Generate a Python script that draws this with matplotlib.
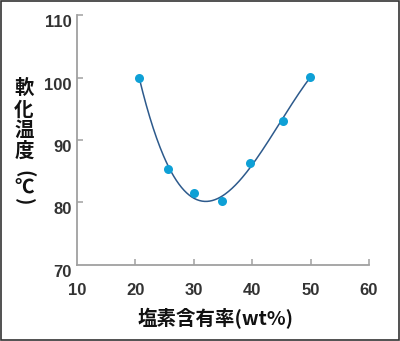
import numpy as np
import matplotlib
matplotlib.use("Agg")
import matplotlib.pyplot as plt
import matplotlib.transforms as mtransforms

# chlorine content (wt%) vs softening temperature (C)
chlorine = [20.7, 25.6, 30.0, 34.9, 39.7, 45.2, 49.9]
softening = [99.9, 85.3, 81.5, 80.3, 86.3, 93.0, 100.1]

x_ticks = [10, 20, 30, 40, 50, 60]
y_ticks = [70, 80, 90, 100, 110]

x_title = '塩素含有率(wt%)'
y_title = ['軟', '化', '温', '度', '(', '℃', ')']

jp_font = ['Noto Sans CJK JP', 'DejaVu Sans']

fig = plt.figure(figsize=(4, 3.41), dpi=100)
ax = fig.add_axes([0.1925, 0.2229, 0.73, 0.7331])

# cubic trend through the measurements
coef = np.polyfit(chlorine, softening, 3)
xs = np.linspace(min(chlorine), max(chlorine), 200)
ax.plot(xs, np.polyval(coef, xs), color='#2d5a8c', lw=1.1, zorder=2)
ax.plot(chlorine, softening, 'o', color='#0ea0d6', ms=6.5, mec='none', zorder=3)

ax.set_xlim(10, 60)
ax.set_ylim(70, 110)
ax.set_xticks(x_ticks)
ax.set_yticks(y_ticks)

for s in ['top', 'right']:
    ax.spines[s].set_visible(False)
for s in ['left', 'bottom']:
    ax.spines[s].set_color('#a0a0a0')
    ax.spines[s].set_linewidth(1.3)

ax.tick_params(axis='both', direction='in', length=4, width=1.1, color='#a0a0a0',
               labelsize=12, labelcolor='#333333')
ax.tick_params(axis='x', pad=13)
ax.tick_params(axis='y', pad=4)
ax.xaxis.get_major_ticks()[0].tick1line.set_visible(False)
ax.yaxis.get_major_ticks()[0].tick1line.set_visible(False)

for lab in ax.get_xticklabels() + ax.get_yticklabels():
    lab.set_fontfamily('Liberation Sans')
    lab.set_fontweight('bold')

# y labels sit a little below their ticks
shift = mtransforms.ScaledTranslation(0, -6 / 100, fig.dpi_scale_trans)
for lab in ax.get_yticklabels():
    lab.set_transform(lab.get_transform() + shift)

fig.text(215.5 / 400, 1 - 319 / 341, x_title, family=jp_font, fontsize=14,
         fontweight='bold', color='#111111', ha='center', va='center')

# vertical y title, one character per row; brackets turned sideways
y_rows = [88.5, 110, 130.5, 151.5, 174, 188.5, 202]
for ch, yp in zip(y_title, y_rows):
    rot = -90 if ch in '()' else 0
    fig.text(24 / 400, 1 - yp / 341, ch, family=jp_font, fontsize=14,
             fontweight='bold', color='#111111', ha='center', va='center', rotation=rot)

# thin frame around the whole figure
fig.patches.append(plt.Rectangle((0.0015, 0.002), 0.997, 0.996, transform=fig.transFigure,
                                 fill=False, ec='#333333', lw=1.2))

fig.savefig('out.png', dpi=100)
